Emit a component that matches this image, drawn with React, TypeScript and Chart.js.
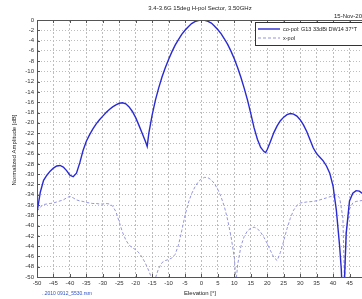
import React, { useEffect, useRef } from "react";
import { Chart, registerables } from "chart.js";

Chart.register(...registerables);

const TITLE = "3.4-3.6G 15deg H-pol Sector, 3.50GHz";
const DATE_TEXT = "15-Nov-2009";
const X_LABEL = "Elevation [°]";
const Y_LABEL = "Normalized Amplitude [dB]";
const FOOTER = "..2010 0912_5530.rsm";
const SERIES_LABELS = ["co-pol: G13 33dBi DW14 37°T", "x-pol"];

const X_MIN = -50;
const X_MAX = 48.8;
const Y_MIN = -50;
const Y_MAX = 0;

const coAngles = [
  -50, -49, -48, -47, -46, -45, -44, -43, -42, -41, -40, -39, -38, -37, -36, -35, -34, -33, -32, -31,
  -30, -29, -28, -27, -26, -25, -24, -23, -22, -21, -20, -19, -18, -17, -16.5, -16, -15, -14, -13, -12,
  -11, -10, -9, -8, -7, -6, -5, -4, -3, -2, -1, 0, 1, 2, 3, 4, 5, 6, 7, 8,
  9, 10, 11, 12, 13, 14, 15, 16, 17, 18, 19, 19.5, 20, 21, 22, 23, 24, 25, 26, 27,
  28, 29, 30, 31, 32, 33, 34, 35, 36, 37, 38, 39, 40, 41, 42, 42.5, 43, 43.5, 44, 45,
  46, 47, 48, 49,
];
const coValues = [
  -37.5, -33.5, -31.2, -30.2, -29.4, -28.8, -28.4, -28.3, -28.6, -29.3, -30.2, -30.5, -29.8, -27.8, -25.4, -23.6, -22.3, -21.2, -20.2, -19.4,
  -18.7, -18.0, -17.4, -16.9, -16.5, -16.2, -16.1, -16.3, -16.9, -17.8, -19.0, -20.5, -22.1, -23.7, -24.6, -22.0, -18.5, -15.6, -13.2, -11.1,
  -9.3, -7.7, -6.2, -4.9, -3.8, -2.8, -2.0, -1.3, -0.7, -0.3, -0.1, 0, -0.05, -0.25, -0.6, -1.2, -1.9, -2.7, -3.7, -4.8,
  -6.1, -7.6, -9.3, -11.2, -13.3, -15.6, -18.2, -21.0, -23.2, -24.8, -25.6, -25.8, -25.2, -23.6, -21.9, -20.6, -19.6, -18.9, -18.4, -18.2,
  -18.3, -18.7, -19.4, -20.4, -21.7, -23.3, -24.9, -26.0, -26.7, -27.4, -28.4, -29.8, -32.3, -37.0, -44.0, -48.5, -56.0, -50.0, -41.5, -35.2,
  -33.7, -33.2, -33.3, -33.8,
];

const xpAngles = [
  -50, -49, -48, -47, -46, -45, -44, -43, -42, -41, -40, -39, -38, -37, -36, -35, -34, -33, -32, -31,
  -30, -29, -28, -27, -26, -25, -24, -23, -22, -21, -20, -19, -18, -17, -16, -15, -14.5, -14, -13, -12,
  -11, -10, -9, -8, -7, -6, -5, -4, -3, -2, -1, 0, 1, 2, 3, 4, 5, 6, 7, 8,
  9, 10, 10.5, 11, 12, 13, 14, 15, 16, 17, 18, 19, 20, 21, 22, 23, 24, 25, 26, 27,
  28, 29, 30, 32, 34, 36, 38, 40, 41, 42, 43, 43.5, 44, 45, 46, 47, 48, 49,
];
const xpValues = [
  -37.2, -36.4, -35.9, -35.8, -35.7, -35.6, -35.4, -35.2, -35.0, -34.6, -34.3, -34.6, -35.0, -35.2, -35.3, -35.5, -35.6, -35.7, -35.7, -35.8,
  -35.8, -35.7, -35.8, -36.2, -37.3, -39.3, -41.3, -42.8, -43.8, -44.3, -44.7, -45.3, -46.2, -47.4, -48.8, -50.5, -51.5, -50.2, -48.3, -47.2,
  -46.8, -46.6, -46.3, -45.6, -43.8, -41.0, -38.0, -35.6, -33.8, -32.5, -31.5, -30.9, -30.6, -30.7, -31.1, -31.9, -33.0, -34.5, -36.4, -39.0,
  -42.2, -46.3, -51.0, -47.6, -44.0, -42.1, -41.0, -40.5, -40.3, -40.6, -41.3, -42.3, -43.5, -44.9, -46.2, -46.8, -45.2, -43.0, -40.6, -38.6,
  -37.0, -36.1, -35.6, -35.4, -35.3, -35.0, -34.6, -34.2, -34.0, -34.6, -38.5, -52.0, -41.0, -36.8, -35.6, -35.3, -35.2, -35.1,
];

const CO_COLOR = "#2a2ad2";
const XP_COLOR = "#9494dc";
const FONT = "'Liberation Sans', Arial, sans-serif";

const decorPlugin = {
  id: "decor",
  afterDraw(chart: any) {
    const { ctx, chartArea: a, scales } = chart;
    const xs = scales.x;
    const ys = scales.y;
    ctx.save();
    // top border
    ctx.strokeStyle = "#555";
    ctx.lineWidth = 1;
    ctx.setLineDash([]);
    ctx.beginPath();
    ctx.moveTo(a.left, a.top + 0.5);
    ctx.lineTo(a.right, a.top + 0.5);
    ctx.stroke();
    // inner ticks
    ctx.beginPath();
    xs.ticks.forEach((t: any) => {
      const px = Math.round(xs.getPixelForValue(t.value)) + 0.5;
      ctx.moveTo(px, a.bottom);
      ctx.lineTo(px, a.bottom - 3);
      ctx.moveTo(px, a.top);
      ctx.lineTo(px, a.top + 3);
    });
    ys.ticks.forEach((t: any) => {
      const py = Math.round(ys.getPixelForValue(t.value)) + 0.5;
      ctx.moveTo(a.left, py);
      ctx.lineTo(a.left + 3, py);
    });
    ctx.stroke();

    // title
    ctx.fillStyle = "#222";
    ctx.font = `6px ${FONT}`;
    ctx.textAlign = "center";
    ctx.textBaseline = "middle";
    ctx.fillText(TITLE, 200, 8);
    // date
    ctx.textAlign = "left";
    ctx.fillText(DATE_TEXT, 334, 16);
    // x label
    ctx.textAlign = "center";
    ctx.fillText(X_LABEL, 200, 293);
    // y label
    ctx.save();
    ctx.translate(14, 150);
    ctx.rotate(-Math.PI / 2);
    ctx.fillText(Y_LABEL, 0, 0);
    ctx.restore();
    // footer
    ctx.fillStyle = "#3050c0";
    ctx.font = `5px ${FONT}`;
    ctx.textAlign = "left";
    ctx.fillText(FOOTER, 42, 294);

    // legend
    const lx = 255;
    const ly = 22;
    ctx.fillStyle = "#fff";
    ctx.fillRect(lx, ly, 130, 23);
    ctx.strokeStyle = "#333";
    ctx.lineWidth = 1;
    ctx.strokeRect(lx + 0.5, ly + 0.5, 130, 23);
    const entries = [
      { color: CO_COLOR, dash: [] as number[], width: 1.4 },
      { color: XP_COLOR, dash: [3, 2], width: 1 },
    ];
    entries.forEach((e, i) => {
      const y = ly + 7 + i * 9;
      ctx.strokeStyle = e.color;
      ctx.lineWidth = e.width;
      ctx.setLineDash(e.dash);
      ctx.beginPath();
      ctx.moveTo(lx + 3, y);
      ctx.lineTo(lx + 25, y);
      ctx.stroke();
      ctx.setLineDash([]);
      ctx.fillStyle = "#222";
      ctx.font = `5.5px ${FONT}`;
      ctx.textAlign = "left";
      ctx.textBaseline = "middle";
      ctx.fillText(SERIES_LABELS[i], lx + 28, y);
    });
    ctx.restore();
  },
};

export default function App() {
  const ref = useRef<HTMLCanvasElement | null>(null);
  useEffect(() => {
    if (!ref.current) return;
    const chart = new Chart(ref.current, {
      type: "line",
      data: {
        datasets: [
          {
            label: SERIES_LABELS[0],
            data: coAngles.map((x, i) => ({ x, y: coValues[i] })),
            borderColor: CO_COLOR,
            borderWidth: 1.4,
            pointRadius: 0,
            tension: 0,
            fill: false,
          },
          {
            label: SERIES_LABELS[1],
            data: xpAngles.map((x, i) => ({ x, y: xpValues[i] })),
            borderColor: XP_COLOR,
            borderWidth: 1,
            borderDash: [3, 2],
            pointRadius: 0,
            tension: 0,
            fill: false,
          },
        ],
      },
      options: {
        responsive: false,
        animation: false,
        layout: { padding: { top: 20, left: 0, right: 0, bottom: 0 } },
        plugins: {
          legend: { display: false },
          title: { display: false },
          tooltip: { enabled: false },
        },
        scales: {
          x: {
            type: "linear",
            min: X_MIN,
            max: X_MAX,
            afterFit: (s: any) => {
              s.height = 22;
            },
            ticks: {
              stepSize: 5,
              includeBounds: false,
              autoSkip: false,
              maxRotation: 0,
              padding: 3,
              color: "#333",
              font: { family: FONT, size: 6 },
            },
            grid: { color: "#bdbdbd", lineWidth: 1, drawTicks: false },
            border: { display: true, color: "#555", width: 1, dash: [2, 2] },
          },
          y: {
            type: "linear",
            min: Y_MIN,
            max: Y_MAX,
            afterFit: (s: any) => {
              s.width = 37;
            },
            ticks: {
              stepSize: 2,
              autoSkip: false,
              padding: 3,
              color: "#333",
              font: { family: FONT, size: 6 },
            },
            grid: { color: "#bdbdbd", lineWidth: 1, drawTicks: false },
            border: { display: true, color: "#555", width: 1, dash: [1, 2] },
          },
        },
      },
      plugins: [decorPlugin],
    });
    return () => chart.destroy();
  }, []);
  return (
    <div
      style={{
        position: "fixed",
        left: 0,
        top: 0,
        width: 362,
        height: 299,
        overflow: "hidden",
        background: "#fff",
      }}
    >
      <canvas ref={ref} width={362} height={299} style={{ width: 362, height: 299, display: "block" }} />
    </div>
  );
}
